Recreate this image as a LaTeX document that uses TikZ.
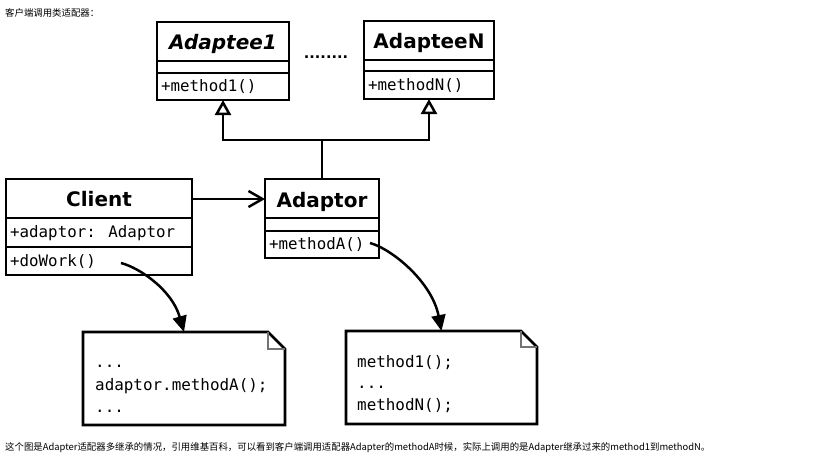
\documentclass[tikz,border=0pt]{standalone}
\usepackage{fontspec}
\setmainfont{DejaVu Sans}
\newfontfamily\monof{DejaVu Sans Mono}
\newfontfamily\cjk{Noto Sans CJK SC}
\usetikzlibrary{arrows.meta}
\begin{document}
\begin{tikzpicture}[x=1pt,y=-1pt,
  cls/.style={draw, line width=2.6pt, inner sep=0pt, outer sep=0pt},
  sepline/.style={line width=2.4pt},
  ctitle/.style={anchor=base, inner sep=0pt, font=\fontsize{20}{24}\selectfont\bfseries},
  meth/.style={anchor=base west, inner sep=0pt, font=\monof\fontsize{15.8}{19}\selectfont},
  conn/.style={line width=2.5pt},
  notebox/.style={inner sep=0pt, outer sep=0pt},
  noteline/.style={line width=2.6pt, line join=miter},
  foldline/.style={line width=2pt, draw=black!55},
  notetext/.style={anchor=base west, inner sep=0pt, font=\monof\fontsize{15.9}{19}\selectfont},
  small/.style={anchor=west, inner sep=0pt, font=\cjk\fontsize{9.4}{11}\selectfont}
]
\fill[white] (0,0) rectangle (820,461);
\useasboundingbox (0,0) rectangle (820,461);

% header / footer
\node[small] (hdr) at (5,13) {客户端调用类适配器：};
\node[small] (ftr) at (5,447.5) {这个图是Adapter适配器多继承的情况，引用维基百科，可以看到客户端调用适配器Adapter的methodA时候，实际上调用的是Adapter继承过来的method1到methodN。};

% Adaptee1
\node[cls, minimum width=132pt, minimum height=78pt] (a1) at (223,61) {};
\draw[sepline] (a1.west |- 0,61) -- (a1.east |- 0,61);
\draw[sepline] (a1.west |- 0,73) -- (a1.east |- 0,73);
\node[ctitle, font=\fontsize{20}{24}\selectfont\bfseries\itshape] (a1t) at (223,49.5) {Adaptee1};
\node[meth] (a1m) at (161,91) {+method1()};

% dots
\node[anchor=base, inner sep=0pt, font=\fontsize{14.5}{16}\selectfont\bfseries] (dots) at (326,58.5) {........};

% AdapteeN
\node[cls, minimum width=130pt, minimum height=78pt] (an) at (429,60) {};
\draw[sepline] (an.west |- 0,60) -- (an.east |- 0,60);
\draw[sepline] (an.west |- 0,71) -- (an.east |- 0,71);
\node[ctitle] (ant) at (429,48.5) {AdapteeN};
\node[meth] (anm) at (368,90) {+methodN()};

% Client
\node[cls, minimum width=186pt, minimum height=96pt] (cl) at (99,227) {};
\draw[sepline] (cl.west |- 0,218) -- (cl.east |- 0,218);
\draw[sepline] (cl.west |- 0,247) -- (cl.east |- 0,247);
\node[ctitle] (clt) at (99,206.5) {Client};
\node[meth] (cla) at (10,237.5) {+adaptor: Adaptor};
\node[meth] (cld) at (10,266) {+doWork()};

% Adaptor
\node[cls, minimum width=114pt, minimum height=79pt] (ad) at (322,218.5) {};
\draw[sepline] (ad.west |- 0,218) -- (ad.east |- 0,218);
\draw[sepline] (ad.west |- 0,231) -- (ad.east |- 0,231);
\node[ctitle] (adt) at (322,207) {Adaptor};
\node[meth] (adm) at (269,249) {+methodA()};

% inheritance
\coordinate (j) at (ad.north |- 0,140);
\draw[conn] (ad.north) -- (j);
\draw[conn, -{Triangle[open, length=15pt, width=16pt]}] (j) -| (a1.south);
\draw[conn, -{Triangle[open, length=15pt, width=16pt]}] (j) -| (an.south);

% association
\draw[conn, -{Straight Barb[length=14pt, width=16pt]}] (cl.east |- 0,199) -- (ad.west |- 0,199);

% notes
\node[notebox, minimum width=202pt, minimum height=93pt] (n1) at (184,378.5) {};
\draw[noteline] (n1.north west) -- ([xshift=-17pt]n1.north east) -- ([yshift=-17pt]n1.north east) -- (n1.south east) -- (n1.south west) -- cycle;
\draw[foldline] ([xshift=-17pt]n1.north east) -- ([xshift=-17pt,yshift=-17pt]n1.north east) -- ([yshift=-17pt]n1.north east);
\node[notetext] (n1a) at (95,367) {...};
\node[notetext] (n1b) at (95,390) {adaptor.methodA();};
\node[notetext] (n1c) at (95,412) {...};

\node[notebox, minimum width=191pt, minimum height=93pt] (n2) at (441.5,377.5) {};
\draw[noteline] (n2.north west) -- ([xshift=-16pt]n2.north east) -- ([yshift=-16pt]n2.north east) -- (n2.south east) -- (n2.south west) -- cycle;
\draw[foldline] ([xshift=-16pt]n2.north east) -- ([xshift=-16pt,yshift=-16pt]n2.north east) -- ([yshift=-16pt]n2.north east);
\node[notetext] (n2a) at (357,367) {method1();};
\node[notetext] (n2b) at (357,388) {...};
\node[notetext] (n2c) at (357,410) {methodN();};

% note links
\coordinate (s1) at (121,263);
\coordinate (s2) at (370,243);
\draw[conn, -{Triangle[length=16pt, width=14pt]}] (s1) .. controls (140,268) and (172,290) .. (n1.north);
\draw[conn, -{Triangle[length=16pt, width=14pt]}] (s2) .. controls (392,249) and (432,282) .. (n2.north);
\end{tikzpicture}
\end{document}
